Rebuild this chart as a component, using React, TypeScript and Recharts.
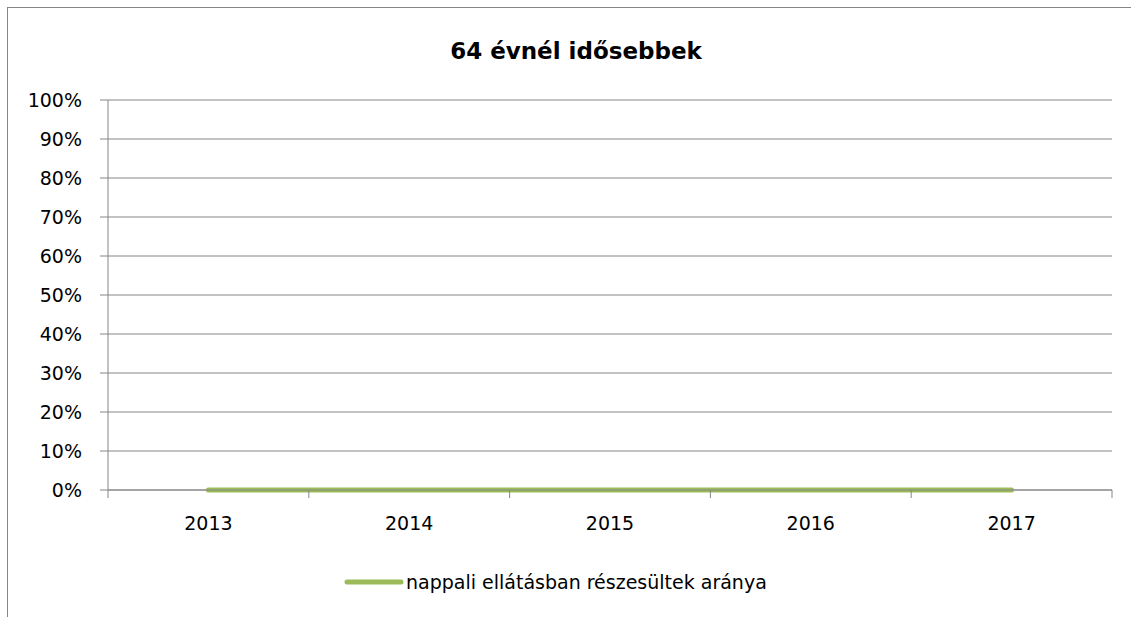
import React from 'react';
import { LineChart, Line, XAxis, YAxis, CartesianGrid, Legend } from 'recharts';

// chart values
const years = ['2013', '2014', '2015', '2016', '2017'];
const shares = [0, 0, 0, 0, 0];
const yTicks = [0, 0.1, 0.2, 0.3, 0.4, 0.5, 0.6, 0.7, 0.8, 0.9, 1];
const chartTitle = '64 évnél idősebbek';
const seriesName = 'nappali ellátásban részesültek aránya';

const data = years.map((year, i) => ({ year, value: shares[i] }));

const GRID = '#868686';
const GREEN = '#9BBB59';
const FONT = '"DejaVu Sans", sans-serif';

// category labels sit in the middle of each band, tick marks on the band edges
const YearTick = (props: any) => {
  const { x, y, payload, index, visibleTicksCount } = props;
  const half = payload && payload.offset ? payload.offset : 100.4;
  return (
    <g>
      <line x1={x - half} x2={x - half} y1={y} y2={y + 8} stroke={GRID} />
      {index === visibleTicksCount - 1 && (
        <line x1={x + half} x2={x + half} y1={y} y2={y + 8} stroke={GRID} />
      )}
      <text x={x} y={y + 40} textAnchor="middle" fill="#000" fontSize={19} fontFamily={FONT}>
        {payload.value}
      </text>
    </g>
  );
};

const LegendContent = () => (
  <div style={{ display: 'flex', alignItems: 'center', whiteSpace: 'nowrap' }}>
    <svg width={60} height={10}>
      <line x1={3} x2={57} y1={5} y2={5} stroke={GREEN} strokeWidth={5} strokeLinecap="round" />
    </svg>
    <span style={{ fontFamily: FONT, fontSize: 19, color: '#000', marginLeft: 2 }}>{seriesName}</span>
  </div>
);

export default function App() {
  return (
    <div
      style={{
        position: 'fixed',
        left: 7,
        top: 7,
        width: 1124,
        height: 610,
        borderLeft: `1px solid ${GRID}`,
        borderTop: `1px solid ${GRID}`,
        background: '#fff',
        overflow: 'hidden',
      }}
    >
      <div
        style={{
          position: 'absolute',
          left: 268,
          top: 30,
          width: 600,
          textAlign: 'center',
          fontFamily: FONT,
          fontWeight: 'bold',
          fontSize: 23,
          color: '#000',
        }}
      >
        {chartTitle}
      </div>
      <LineChart width={1123} height={609} data={data} margin={{ top: 92, right: 19, left: 0, bottom: 97 }}>
        <CartesianGrid vertical={false} stroke={GRID} strokeWidth={1} />
        <XAxis
          dataKey="year"
          scale="band"
          height={30}
          axisLine={{ stroke: GRID }}
          tickLine={false}
          tickSize={0}
          tickMargin={0}
          interval={0}
          tick={<YearTick />}
        />
        <YAxis
          type="number"
          domain={[0, 1]}
          ticks={yTicks}
          width={100}
          tickSize={8}
          tickMargin={18}
          axisLine={{ stroke: GRID }}
          tickLine={{ stroke: GRID }}
          tick={{ fill: '#000', fontSize: 19, fontFamily: FONT }}
          tickFormatter={(v: number) => `${Math.round(v * 100)}%`}
        />
        <Legend
          layout="vertical"
          align="center"
          verticalAlign="middle"
          content={<LegendContent />}
          wrapperStyle={{ left: 336, top: 563, width: 'auto' }}
        />
        <Line
          type="linear"
          dataKey="value"
          name={seriesName}
          stroke={GREEN}
          strokeWidth={5}
          strokeLinecap="round"
          dot={false}
          activeDot={false}
          isAnimationActive={false}
        />
      </LineChart>
    </div>
  );
}
